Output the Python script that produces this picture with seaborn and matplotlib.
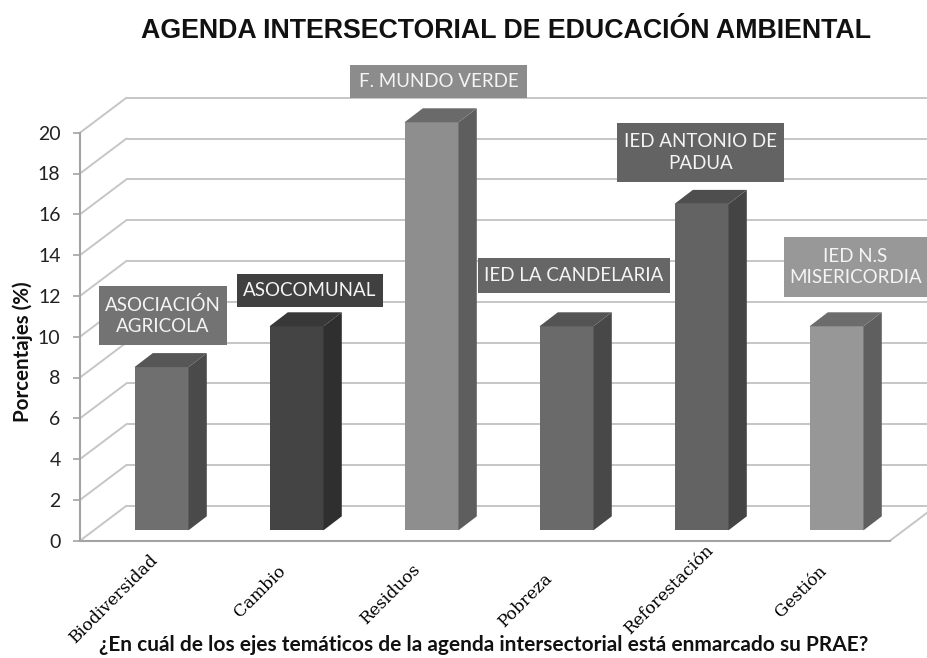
import matplotlib
matplotlib.use("Agg")
import matplotlib.pyplot as plt
from matplotlib.patches import Polygon, Rectangle
from matplotlib.transforms import ScaledTranslation
import seaborn as sns

# Datos
temas = ["Biodiversidad", "Cambio", "Residuos", "Pobreza", "Reforestación", "Gestión"]
valores = [8, 10, 20, 10, 16, 10]
etiquetas = ["ASOCIACIÓN\nAGRICOLA", "ASOCOMUNAL", "F. MUNDO VERDE",
             "IED LA CANDELARIA", "IED ANTONIO DE\nPADUA", "IED N.S\nMISERICORDIA"]
yticks = list(range(0, 21, 2))

# Colores: frente, lado y tapa de cada barra
frente = ["#6f6f6f", "#444444", "#8e8e8e", "#6a6a6a", "#636363", "#979797"]
lado = ["#4a4a4a", "#2f2f2f", "#5e5e5e", "#484848", "#444444", "#5f5f5f"]
tapa = ["#565656", "#383838", "#6a6a6a", "#545454", "#4e4e4e", "#6c6c6c"]
fondo_caja = ["#737373", "#404040", "#8c8c8c", "#666666", "#636363", "#989898"]

# Cajas de las etiquetas en pixeles (x0, y0, x1, y1)
cajas = [(99, 286, 227, 345), (237, 274, 383, 307), (350, 65, 527, 98),
         (478, 258, 670, 293), (617, 123, 784, 182), (784, 237, 927, 297)]
# desplazamiento de etiquetas del eje x en pixeles
desp_x = [-34, -23, -27, -27, -19, -22]
desp_y = [-58, -51, -54, -60, -49, -51]

W, H = 927, 658
sns.set_theme(style="white")
fig = plt.figure(figsize=(W / 100, H / 100), dpi=100)
ax = fig.add_axes([80 / W, (H - 540.7) / H, 810 / W, 408 / H])

sns.barplot(x=temas, y=valores, hue=temas, palette=frente, saturation=1,
            width=0.4, legend=False, ax=ax, zorder=3, linewidth=0)
ax.set_xlim(-0.5, 5.5)
ax.set_ylim(0, 20)

# profundidad del grafico en unidades de datos
px_x = 135.0
px_y = 20.4
pared_x, pared_y = 46.5 / px_x, 35 / px_y
base_x, base_y = 14 / px_x, 10.4 / px_y
prof_x, prof_y = 18.3 / px_x, 14 / px_y

# pared del fondo y pared izquierda
for v in yticks:
    ax.plot([-0.5 + pared_x, 5.5 + pared_x], [v + pared_y, v + pared_y], color="#c6c6c6",
            lw=1.4, clip_on=False, zorder=1)
    ax.plot([-0.5, -0.5 + pared_x], [v, v + pared_y], color="#c6c6c6", lw=1.4,
            clip_on=False, zorder=1)
ax.plot([5.5, 5.5 + pared_x], [0, pared_y], color="#c6c6c6", lw=1.4, clip_on=False, zorder=1)

# barras con lado y tapa
for i, bar in enumerate(ax.patches):
    bar.set_x(bar.get_x() + base_x)
    bar.set_y(base_y)
    bar.set_clip_on(False)
    x0, x1 = bar.get_x(), bar.get_x() + bar.get_width()
    y0, y1 = base_y, base_y + bar.get_height()
    ax.add_patch(Polygon([(x1, y0), (x1 + prof_x, y0 + prof_y), (x1 + prof_x, y1 + prof_y), (x1, y1)],
                         facecolor=lado[i], edgecolor="none", clip_on=False, zorder=3))
    ax.add_patch(Polygon([(x0, y1), (x1, y1), (x1 + prof_x, y1 + prof_y), (x0 + prof_x, y1 + prof_y)],
                         facecolor=tapa[i], edgecolor="none", clip_on=False, zorder=3))

# etiquetas con caja
for i, texto in enumerate(etiquetas):
    x0, y0, x1, y1 = cajas[i]
    fig.add_artist(Rectangle((x0 / W, 1 - y1 / H), (x1 - x0) / W, (y1 - y0) / H,
                             transform=fig.transFigure, facecolor=fondo_caja[i],
                             edgecolor="none", zorder=5))
    fig.text((x0 + x1) / 2 / W, 1 - (y0 + y1) / 2 / H, texto, color="#f4f4f4", family="Lato",
             fontsize=13.5, ha="center", va="center", linespacing=1.35, zorder=6)

# ejes
sns.despine(ax=ax)
ax.spines["left"].set_color("#a3a3a3")
ax.spines["bottom"].set_color("#a3a3a3")
ax.spines["left"].set_linewidth(1.5)
ax.spines["bottom"].set_linewidth(1.5)
ax.set_yticks(yticks)
ax.tick_params(axis="y", length=5, width=1.2, color="#a3a3a3", pad=9, left=True,
               labelsize=14, labelcolor="#222222")
for lab in ax.get_yticklabels():
    lab.set_family("Lato")

ax.set_xticks(range(len(temas)))
ax.set_xticklabels(temas, rotation=45, ha="center", va="center", family="DejaVu Serif",
                   fontsize=12.2, color="#000000")
ax.tick_params(axis="x", length=0, pad=0)
for i, lab in enumerate(ax.get_xticklabels()):
    lab.set_transform(lab.get_transform() + ScaledTranslation(desp_x[i] / 100, desp_y[i] / 100, fig.dpi_scale_trans))

ax.set_xlabel("")
ax.set_ylabel("")
fig.text(23 / W, 1 - 352 / H, "Porcentajes (%)", rotation=90, family="Lato", weight="bold",
         fontsize=14.8, ha="center", va="center", color="#111111")
fig.text(484 / W, 1 - 645 / H,
         "¿En cuál de los ejes temáticos de la agenda intersectorial está enmarcado su PRAE?",
         family="Lato", weight="bold", fontsize=15, ha="center", va="center", color="#111111")
fig.text(506 / W, 1 - 31 / H, "AGENDA INTERSECTORIAL DE EDUCACIÓN AMBIENTAL",
         family="Liberation Sans", weight="bold", fontsize=19.3, ha="center", va="center",
         color="#111111")

fig.savefig("out.png", dpi=100)
